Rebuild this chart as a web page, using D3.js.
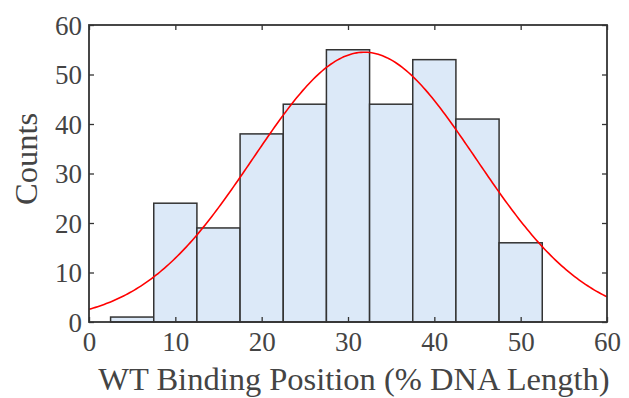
<!DOCTYPE html>
<html><head><meta charset="utf-8">
<script src="https://cdn.jsdelivr.net/npm/d3@7"></script>
<style>body{margin:0;background:#fff}svg{display:block}</style>
</head><body>
<svg id="chart" width="629" height="398"></svg>
<script>
// Histogram bins (left edges, % DNA length) and counts
const binStarts = [2.5, 7.5, 12.5, 17.5, 22.5, 27.5, 32.5, 37.5, 42.5, 47.5];
const binWidth = 5;
const counts = [1, 24, 19, 38, 44, 55, 44, 53, 41, 16];
// Fitted normal curve parameters
const fitMean = 31.9;
const fitSigma = 12.9;
const fitPeak = 54.5;
const xTicks = [0, 10, 20, 30, 40, 50, 60];
const yTicks = [0, 10, 20, 30, 40, 50, 60];
const xLabel = "WT Binding Position (% DNA Length)";
const yLabel = "Counts";

const svg = d3.select("#chart");
const m = {l: 89, r: 607, t: 25, b: 322};
const x = d3.scaleLinear().domain([0, 60]).range([m.l, m.r]);
const y = d3.scaleLinear().domain([0, 60]).range([m.b, m.t]);
const axisCol = "#333";
const textCol = "#444";
const font = "'Liberation Serif', 'Times New Roman', serif";

// bars
svg.append("g").selectAll("rect").data(counts).join("rect")
  .attr("x", (d, i) => x(binStarts[i]))
  .attr("width", (d, i) => x(binStarts[i] + binWidth) - x(binStarts[i]))
  .attr("y", d => y(d))
  .attr("height", d => y(0) - y(d))
  .attr("fill", "#dce9f8")
  .attr("stroke", "#333")
  .attr("stroke-width", 1.5);

// fit curve
const xs = d3.range(0, 60.001, 0.25);
const line = d3.line().x(d => x(d)).y(d => y(fitPeak * Math.exp(-((d - fitMean) ** 2) / (2 * fitSigma * fitSigma))));
svg.append("path").datum(xs).attr("d", line)
  .attr("fill", "none").attr("stroke", "#ff0000").attr("stroke-width", 1.6);

// axes
const tickLen = 5;
const gx = svg.append("g").attr("transform", `translate(0,${m.b})`)
  .call(d3.axisBottom(x).tickValues(xTicks).tickSize(-tickLen).tickPadding(10).tickSizeOuter(0));
const gxt = svg.append("g").attr("transform", `translate(0,${m.t})`)
  .call(d3.axisTop(x).tickValues(xTicks).tickSize(-tickLen).tickFormat("").tickSizeOuter(0));
const gy = svg.append("g").attr("transform", `translate(${m.l},0)`)
  .call(d3.axisLeft(y).tickValues(yTicks).tickSize(-tickLen).tickPadding(7).tickSizeOuter(0));
const gyr = svg.append("g").attr("transform", `translate(${m.r},0)`)
  .call(d3.axisRight(y).tickValues(yTicks).tickSize(-tickLen).tickFormat("").tickSizeOuter(0));
[gx, gxt, gy, gyr].forEach(g => {
  g.select(".domain").remove();
  g.selectAll("line").attr("stroke", axisCol).attr("stroke-width", 1.3);
  g.selectAll("text").attr("fill", textCol).style("font-family", font).style("font-size", "27px");
});
gy.selectAll("text").attr("dy", "0.35em");
gx.selectAll("text").attr("dy", "0.72em");

svg.append("rect").attr("x", m.l).attr("y", m.t).attr("width", m.r - m.l).attr("height", m.b - m.t)
  .attr("fill", "none").attr("stroke", axisCol).attr("stroke-width", 1.8);

svg.append("text").attr("x", 354).attr("y", 390)
  .attr("text-anchor", "middle").attr("fill", textCol)
  .style("font-family", font).style("font-size", "32.5px").text(xLabel);
svg.append("text").attr("transform", `translate(37,159) rotate(-90)`)
  .attr("text-anchor", "middle").attr("fill", textCol)
  .style("font-family", font).style("font-size", "32.5px").text(yLabel);
</script>
</body></html>
